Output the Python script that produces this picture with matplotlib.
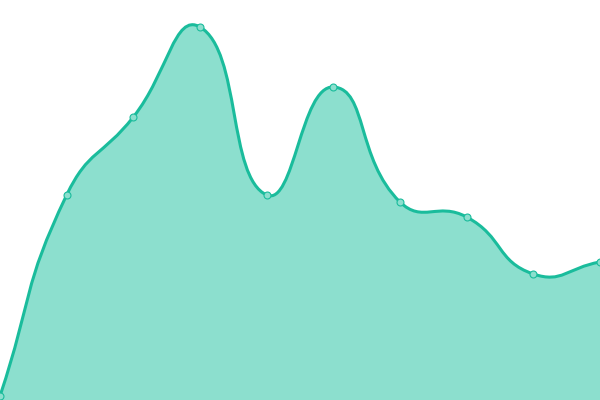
import matplotlib
matplotlib.use("Agg")
import matplotlib.pyplot as plt
import numpy as np
from matplotlib.path import Path
from matplotlib.patches import PathPatch

# data (pixel height above the bottom edge)
categories = list(range(10))
values = [4, 205, 283, 373, 205, 313, 198, 183, 126, 138]

LINE = "#1abc9c"
FILL = "#8cdfce"


def smooth_path(xs, ys, smooth=0.5, close_to=None):
    """bezier path through the points, echarts-like smoothing"""
    pts = np.column_stack([xs, ys]).astype(float)
    n = len(pts)
    cp_next = []
    cp_prev = []
    for i in range(n):
        p = pts[i]
        prev = pts[i - 1] if i > 0 else p
        nxt = pts[i + 1] if i < n - 1 else p
        v = nxt - prev
        l0 = np.hypot(*(p - prev))
        l1 = np.hypot(*(nxt - p))
        r = l1 / (l0 + l1) if (l0 + l1) > 0 else 0.5
        cp_next.append(p + v * smooth * r)
        cp_prev.append(p - v * smooth * (1 - r))
    verts = [pts[0]]
    codes = [Path.MOVETO]
    for i in range(n - 1):
        verts += [cp_next[i], cp_prev[i + 1], pts[i + 1]]
        codes += [Path.CURVE4] * 3
    if close_to is not None:
        verts += [(pts[-1][0], close_to), (pts[0][0], close_to), pts[0]]
        codes += [Path.LINETO, Path.LINETO, Path.CLOSEPOLY]
    return Path(verts, codes)


fig = plt.figure(figsize=(6, 4), dpi=100, facecolor="white")
ax = fig.add_axes([0, 0, 1, 1])
ax.set_xlim(0, 9)
ax.set_ylim(0, 400)
ax.axis("off")

# the smoothing is done in pixel space so it looks right on screen
trans = ax.transData
disp = trans.transform(np.column_stack([categories, values]))
inv = trans.inverted()

area = smooth_path(disp[:, 0], disp[:, 1], close_to=trans.transform((0, -10))[1])
line = smooth_path(disp[:, 0], disp[:, 1])

ax.add_patch(PathPatch(area, transform=None, facecolor=FILL, edgecolor="none", zorder=1))
ax.add_patch(PathPatch(line, transform=None, facecolor="none", edgecolor=LINE,
                       linewidth=2.2, zorder=2))
ax.plot(categories, values, "o", markersize=5, markerfacecolor=FILL,
        markeredgecolor=LINE, markeredgewidth=0.8, zorder=3, clip_on=False)

fig.savefig("out.png", dpi=100, facecolor="white")
